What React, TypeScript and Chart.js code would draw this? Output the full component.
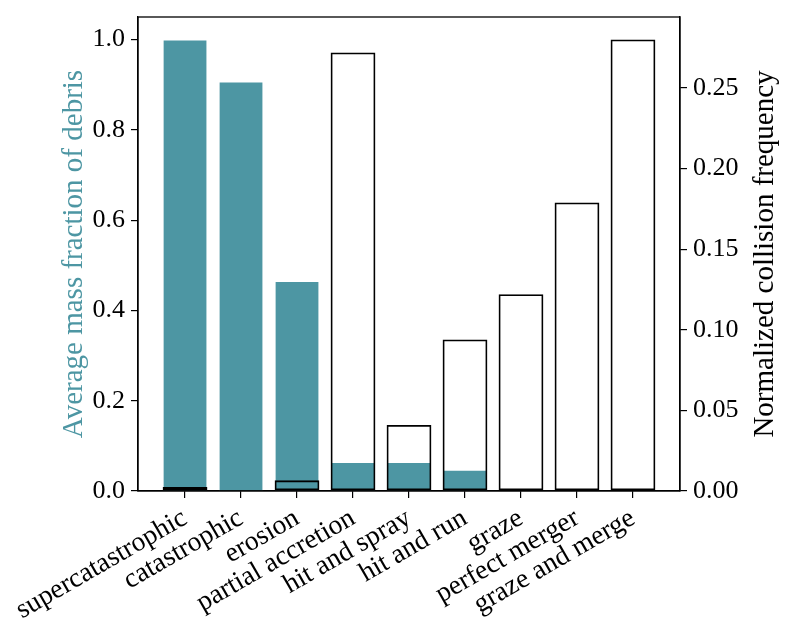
import { useEffect, useRef } from "react";
import { Chart, registerables } from "chart.js";

Chart.register(...registerables);

const categories = [
  "supercatastrophic",
  "catastrophic",
  "erosion",
  "partial accretion",
  "hit and spray",
  "hit and run",
  "graze",
  "perfect merger",
  "graze and merge",
];
const massFraction = [1.0, 0.907, 0.465, 0.064, 0.064, 0.047, 0, 0, 0];
const collisionFrequency = [0.0025, 0, 0.0066, 0.272, 0.041, 0.094, 0.122, 0.179, 0.28];
const massTicks = [0, 0.2, 0.4, 0.6, 0.8, 1.0];
const freqTicks = [0, 0.05, 0.1, 0.15, 0.2, 0.25];

const TEAL = "rgb(77,150,163)";
const FONT = "'Liberation Serif', 'Times New Roman', serif";

const frameAndTitles = {
  id: "frameAndTitles",
  afterDraw(chart: Chart) {
    const { ctx, chartArea } = chart;
    ctx.save();
    ctx.strokeStyle = "#000";
    ctx.lineWidth = 1.3;
    ctx.strokeRect(chartArea.left, chartArea.top, chartArea.right - chartArea.left, chartArea.bottom - chartArea.top);

    const midY = (chartArea.top + chartArea.bottom) / 2;
    ctx.font = `29px ${FONT}`;
    ctx.textAlign = "center";
    ctx.textBaseline = "middle";

    ctx.save();
    ctx.translate(74, midY);
    ctx.rotate(-Math.PI / 2);
    ctx.fillStyle = TEAL;
    ctx.fillText("Average mass fraction of debris", 0, 0);
    ctx.restore();

    ctx.save();
    ctx.translate(765, midY);
    ctx.rotate(-Math.PI / 2);
    ctx.fillStyle = "#000";
    ctx.fillText("Normalized collision frequency", 0, 0);
    ctx.restore();

    ctx.restore();
  },
};

export default function App() {
  const canvasRef = useRef<HTMLCanvasElement | null>(null);
  const chartRef = useRef<Chart | null>(null);

  useEffect(() => {
    document.body.style.margin = "0";
    if (!canvasRef.current) return;
    const ctx = canvasRef.current.getContext("2d");
    if (!ctx) return;

    if (chartRef.current) chartRef.current.destroy();

    const tickFont = { family: FONT, size: 26 };
    const axisGrid = {
      drawOnChartArea: false,
      drawTicks: true,
      offset: false,
      tickLength: 7,
      color: "#000",
      lineWidth: 1.2,
    };
    const axisBorder = { display: true, color: "#000", width: 1.3 };
    const noPadding = (scale: any) => {
      scale.paddingTop = 0;
      scale.paddingBottom = 0;
      scale.paddingLeft = 0;
      scale.paddingRight = 0;
    };

    chartRef.current = new Chart(ctx, {
      type: "bar",
      data: {
        datasets: [
          {
            label: "Normalized collision frequency",
            data: collisionFrequency.map((v, i) => ({ x: i, y: v })),
            yAxisID: "y2",
            backgroundColor: "rgba(0,0,0,0)",
            borderColor: "#000",
            borderWidth: 1.8,
            borderSkipped: false,
            grouped: false,
            barPercentage: 0.8,
            categoryPercentage: 1,
            order: 0,
          },
          {
            label: "Average mass fraction of debris",
            data: massFraction.map((v, i) => ({ x: i, y: v })),
            yAxisID: "y",
            backgroundColor: TEAL,
            borderColor: "rgba(255,255,255,0.5)",
            borderWidth: 1,
            grouped: false,
            barPercentage: 0.8,
            categoryPercentage: 1,
            order: 1,
          },
        ],
      },
      options: {
        responsive: false,
        animation: false,
        layout: { padding: { top: 17, left: 0, right: 0, bottom: 0 } },
        plugins: {
          legend: { display: false },
          tooltip: { enabled: false },
        },
        scales: {
          x: {
            type: "linear",
            position: "bottom",
            min: -0.84,
            max: 8.84,
            offset: false,
            afterBuildTicks: (scale: any) => {
              scale.ticks = categories.map((_, i) => ({ value: i }));
            },
            afterFit: (scale: any) => {
              scale.height = 137;
              noPadding(scale);
            },
            ticks: {
              autoSkip: false,
              maxRotation: 30,
              minRotation: 30,
              padding: 4,
              color: "#000",
              font: { family: FONT, size: 27.5 },
              callback: (_v: any, i: number) => categories[i],
            },
            grid: axisGrid,
            border: axisBorder,
          },
          y: {
            type: "linear",
            position: "left",
            min: 0,
            max: 1.05,
            afterBuildTicks: (scale: any) => {
              scale.ticks = massTicks.map((v) => ({ value: v }));
            },
            afterFit: (scale: any) => {
              scale.width = 138;
              noPadding(scale);
            },
            ticks: {
              padding: 6,
              color: "#000",
              font: tickFont,
              callback: (v: any) => Number(v).toFixed(1),
            },
            grid: axisGrid,
            border: axisBorder,
          },
          y2: {
            type: "linear",
            position: "right",
            min: 0,
            max: 0.294,
            afterBuildTicks: (scale: any) => {
              scale.ticks = freqTicks.map((v) => ({ value: v }));
            },
            afterFit: (scale: any) => {
              scale.width = 110;
              noPadding(scale);
            },
            ticks: {
              padding: 6,
              color: "#000",
              font: tickFont,
              callback: (v: any) => Number(v).toFixed(2),
            },
            grid: axisGrid,
            border: axisBorder,
          },
        },
      },
      plugins: [frameAndTitles],
    } as any);

    return () => {
      if (chartRef.current) {
        chartRef.current.destroy();
        chartRef.current = null;
      }
    };
  }, []);

  return <canvas ref={canvasRef} width={790} height={628} style={{ display: "block" }} />;
}
